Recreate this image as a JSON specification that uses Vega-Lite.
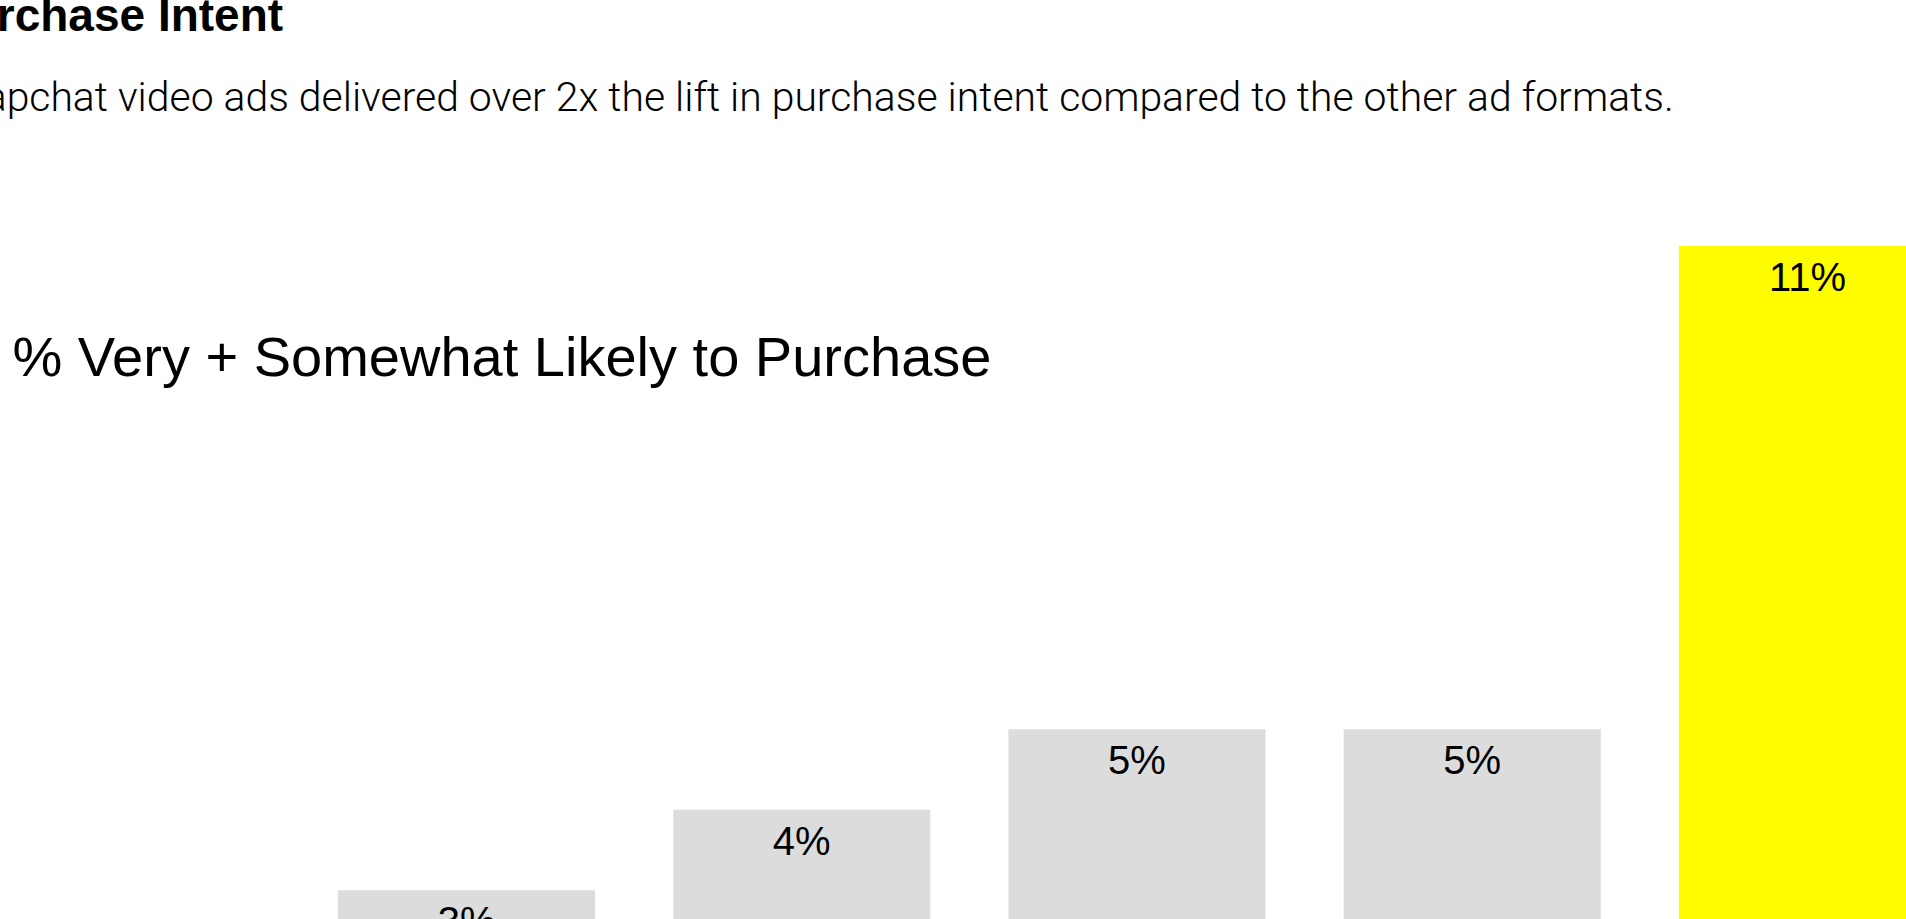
{
  "$schema": "https://vega.github.io/schema/vega-lite/v6.json",
  "autosize": {"type": "none"},
  "width": 1598,
  "height": 886,
  "padding": {"left": 338, "top": 246, "right": 0, "bottom": 0},
  "background": "white",
  "title": {
    "text": "Purchase Intent",
    "subtitle": "Snapchat video ads delivered over 2x the lift in purchase intent compared to the other ad formats.",
    "anchor": "start",
    "frame": "group",
    "dx": -400,
    "offset": 126,
    "font": "Liberation Sans",
    "fontSize": 46,
    "fontWeight": "bold",
    "color": "black",
    "subtitleFont": "Roboto",
    "subtitleFontSize": 40.9,
    "subtitleFontWeight": 300,
    "subtitleColor": "black",
    "subtitlePadding": 38
  },
  "data": {
    "values": [
      {"format": "TV", "pct": 0.03},
      {"format": "Facebook", "pct": 0.04},
      {"format": "Instagram", "pct": 0.05},
      {"format": "YouTube", "pct": 0.05},
      {"format": "Snapchat", "pct": 0.11}
    ]
  },
  "encoding": {
    "x": {
      "field": "format",
      "type": "nominal",
      "sort": null,
      "scale": {"paddingInner": 0.233, "paddingOuter": 0},
      "axis": null
    },
    "y": {
      "field": "pct",
      "type": "quantitative",
      "scale": {"domain": [0, 0.11], "nice": false},
      "axis": {
        "title": "% Very + Somewhat Likely to Purchase",
        "labels": false,
        "ticks": false,
        "domain": false,
        "grid": false,
        "titleAngle": 0,
        "titleAlign": "left",
        "titleBaseline": "alphabetic",
        "titleX": -326,
        "titleY": 129,
        "titleFont": "Liberation Sans",
        "titleFontSize": 56,
        "titleFontWeight": "normal",
        "titleColor": "black"
      }
    }
  },
  "layer": [
    {
      "mark": {"type": "bar"},
      "encoding": {
        "color": {
          "field": "format",
          "type": "nominal",
          "scale": {
            "domain": ["TV", "Facebook", "Instagram", "YouTube", "Snapchat"],
            "range": ["#dcdcdc", "#dcdcdc", "#dcdcdc", "#dcdcdc", "#fffc00"]
          },
          "legend": null
        }
      }
    },
    {
      "mark": {
        "type": "text",
        "baseline": "alphabetic",
        "align": "center",
        "dy": 45,
        "font": "Liberation Sans",
        "fontSize": 40,
        "color": "black"
      },
      "encoding": {
        "text": {"field": "pct", "type": "quantitative", "format": ".0%"}
      }
    }
  ],
  "config": {
    "view": {"stroke": null}
  }
}
